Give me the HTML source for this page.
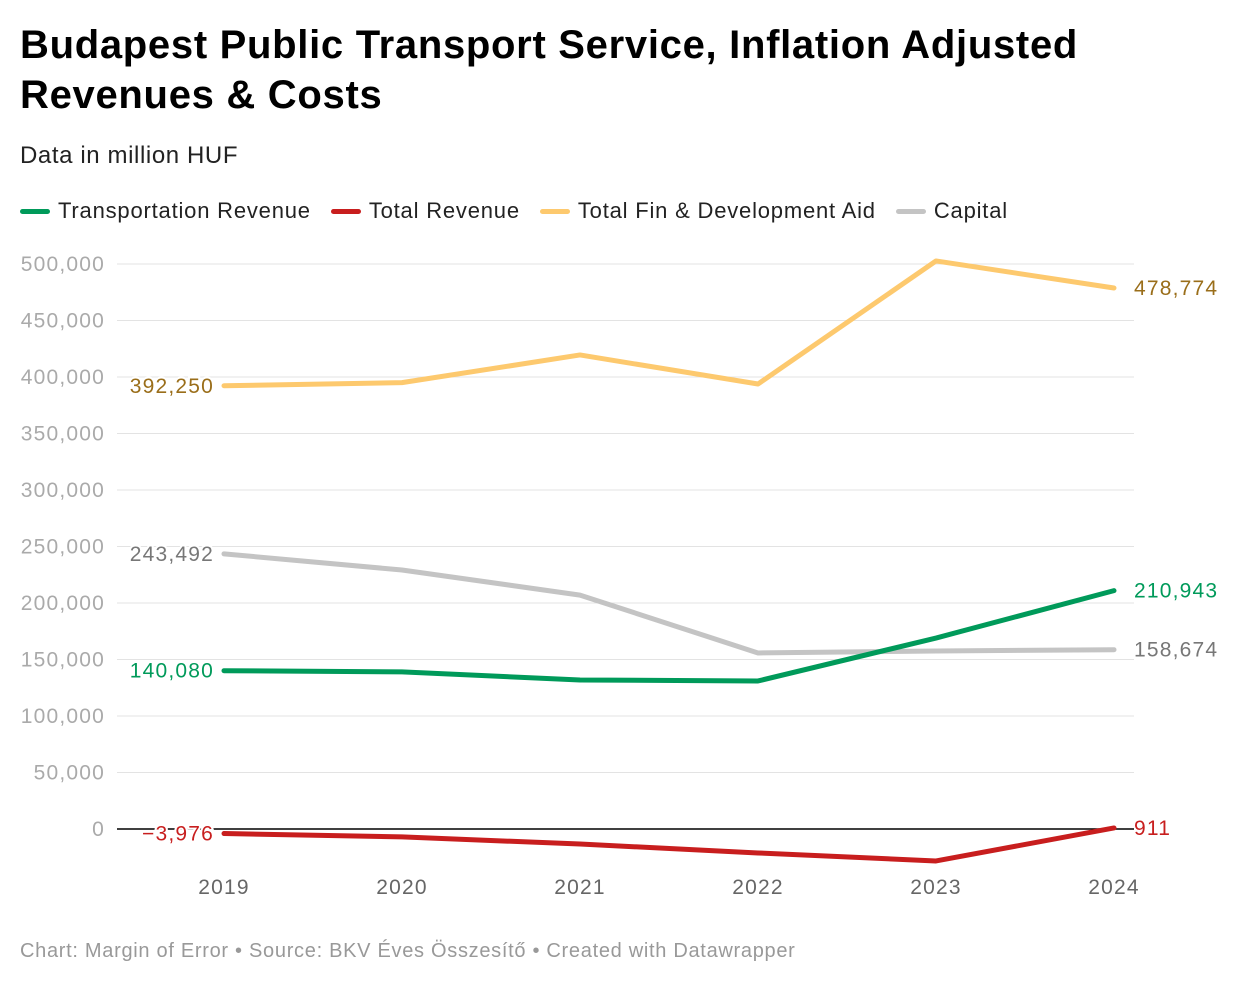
<!DOCTYPE html>
<html><head><meta charset="utf-8"><style>
body{margin:0;background:#fff;font-family:"Liberation Sans",Arial,sans-serif;}
#wrap{position:relative;width:1240px;height:988px;overflow:hidden}
h1{position:absolute;left:20px;top:20px;margin:0;font-size:40px;line-height:50px;font-weight:bold;color:#000;letter-spacing:0.7px}
.sub{position:absolute;left:20px;top:142px;font-size:24px;color:#222;letter-spacing:0.6px}
.legend{position:absolute;left:20px;top:198px;font-size:22px;color:#222;display:flex;gap:0;letter-spacing:0.8px}
.li{display:flex;align-items:center;margin-right:20px}
.sw{width:30px;height:5px;border-radius:3px;margin-right:8px}
.foot{position:absolute;left:20px;top:940px;font-size:20px;color:#999;letter-spacing:0.7px}
</style></head><body>
<div id="wrap">
<h1>Budapest Public Transport Service, Inflation Adjusted<br>Revenues &amp; Costs</h1>
<div class="sub">Data in million HUF</div>
<div class="legend">
<div class="li"><div class="sw" style="background:#009a5a"></div>Transportation Revenue</div>
<div class="li"><div class="sw" style="background:#c81e1e"></div>Total Revenue</div>
<div class="li"><div class="sw" style="background:#fdc96e"></div>Total Fin &amp; Development Aid</div>
<div class="li"><div class="sw" style="background:#c4c4c4"></div>Capital</div>
</div>
<svg id="chart" width="1240" height="988" style="position:absolute;left:0;top:0"></svg>
<div class="foot">Chart: Margin of Error • Source: BKV Éves Összesítő • Created with Datawrapper</div>
</div>
<script>
const years=["2019","2020","2021","2022","2023","2024"];
const yTicks=[0,50000,100000,150000,200000,250000,300000,350000,400000,450000,500000];
const finAid=[392250,395000,419500,393800,502700,478774];
const capital=[243492,229200,207000,155800,157500,158674];
const transport=[140080,139000,131900,131000,169000,210943];
const totalRev=[-3976,-7000,-13300,-21200,-28300,911];
const svg=document.getElementById('chart');
const NS='http://www.w3.org/2000/svg';
const xS=i=>224+i*178;
const yS=v=>829-v*565/500000;
const fmt=v=>(v<0?'−':'')+Math.abs(v).toLocaleString('en-US');
function mk(t,a){const e=document.createElementNS(NS,t);for(const k in a)e.setAttribute(k,a[k]);svg.appendChild(e);return e;}
yTicks.forEach(v=>{
 const l=mk('line',{x1:117,x2:1134,y1:yS(v),y2:yS(v),stroke:v===0?'#000':'#e3e3e3','stroke-width':v===0?1.5:1});
 
 
 const t=mk('text',{x:105,y:yS(v)+7,'text-anchor':'end','font-size':21,fill:'#aaa','font-family':'Liberation Sans, sans-serif','letter-spacing':1.2});
 t.textContent=v.toLocaleString('en-US');
 
 
});
years.forEach((y,i)=>{
 const t=mk('text',{x:xS(i),y:894,'text-anchor':'middle','font-size':21,fill:'#666','font-family':'Liberation Sans, sans-serif','letter-spacing':1.2});
 t.textContent=y;
 
 
});
const series=[[finAid,'#fdc96e','#9a6e1a','fin-aid'],[capital,'#c4c4c4','#777','capital'],[transport,'#009a5a','#009a5a','transportation-revenue'],[totalRev,'#c81e1e','#c81e1e','total-revenue']];
series.forEach(([d,c,tc,n])=>{
 const p=mk('polyline',{points:d.map((v,i)=>xS(i)+','+yS(v)).join(' '),fill:'none',stroke:c,'stroke-width':5,'stroke-linejoin':'round','stroke-linecap':'round'});
 
 
 const a=mk('text',{x:214,y:yS(d[0])+7,'text-anchor':'end','font-size':21,fill:tc,'font-family':'Liberation Sans, sans-serif',stroke:'#fff','stroke-width':4,'paint-order':'stroke','letter-spacing':1.2});
 a.textContent=fmt(d[0]);
 
 
 const b=mk('text',{x:1134,y:yS(d[5])+7,'font-size':21,fill:tc,'font-family':'Liberation Sans, sans-serif','letter-spacing':1.2});
 b.textContent=fmt(d[5]);
 
 
});
</script>
</body></html>
